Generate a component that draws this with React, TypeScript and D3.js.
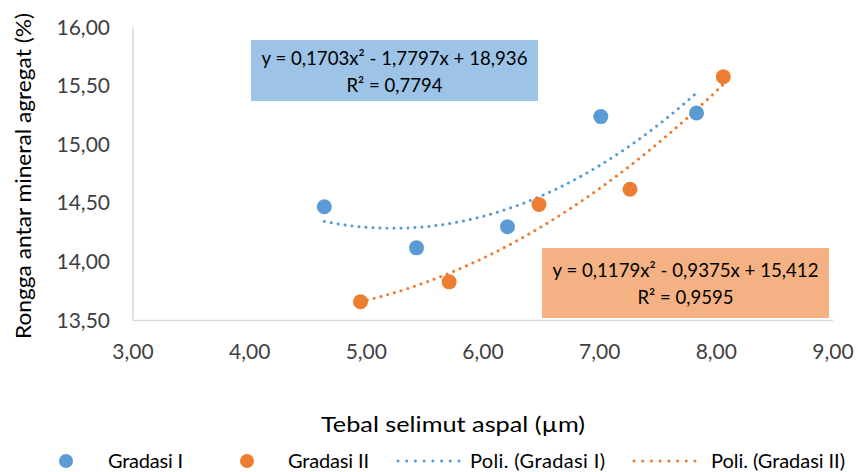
import React, { useRef, useEffect } from 'react';
import * as d3 from 'd3';

const gradasi1X = [4.64, 5.43, 6.21, 7.01, 7.83];
const gradasi1Y = [14.47, 14.12, 14.30, 15.24, 15.27];
const gradasi2X = [4.95, 5.71, 6.48, 7.26, 8.06];
const gradasi2Y = [13.66, 13.83, 14.49, 14.62, 15.58];

// trendline coefficients (a, b, c) as shown on the chart
const poli1 = [0.1703, -1.7797, 18.936];
const poli2 = [0.1179, -0.9375, 15.412];

const xTicks = [3, 4, 5, 6, 7, 8, 9];
const yTicks = [13.5, 14, 14.5, 15, 15.5, 16];

const eq1Lines = ['y = 0,1703x² - 1,7797x + 18,936', 'R² = 0,7794'];
const eq2Lines = ['y = 0,1179x² - 0,9375x + 15,412', 'R² = 0,9595'];

const BLUE = '#5B9BD5';
const ORANGE = '#ED7D31';
const FONT = 'Lato, "Open Sans", sans-serif';

const App = () => {
  const svgRef = useRef(null);
  const W = 858;
  const H = 472;

  useEffect(() => {
    const svg = d3.select(svgRef.current);
    svg.selectAll('*').remove();

    const x = d3.scaleLinear().domain([3, 9]).range([133, 833]);
    const y = d3.scaleLinear().domain([13.5, 16]).range([320.5, 27.5]);
    const fmt = (d) => d3.format('.2f')(d).replace('.', ',');

    // axis lines (no gridlines)
    svg.append('line').attr('x1', 133).attr('x2', 833).attr('y1', y(13.5)).attr('y2', y(13.5))
      .attr('stroke', '#D9D9D9').attr('stroke-width', 1.5);
    svg.append('line').attr('x1', 133).attr('x2', 133).attr('y1', y(13.5)).attr('y2', y(16))
      .attr('stroke', '#D9D9D9').attr('stroke-width', 1.5);

    svg.selectAll('.xt').data(xTicks).join('text')
      .attr('class', 'xt')
      .attr('x', (d) => x(d)).attr('y', 359)
      .attr('text-anchor', 'middle')
      .attr('font-family', FONT).attr('font-size', 21).attr('fill', '#404040')
      .text(fmt);

    svg.selectAll('.yt').data(yTicks).join('text')
      .attr('class', 'yt')
      .attr('x', 110).attr('y', (d) => y(d) + 7)
      .attr('text-anchor', 'end')
      .attr('font-family', FONT).attr('font-size', 21).attr('fill', '#404040')
      .text(fmt);

    svg.append('text')
      .attr('transform', `translate(31, 176) rotate(-90)`)
      .attr('text-anchor', 'middle')
      .attr('font-family', FONT).attr('font-size', 22).attr('fill', '#000')
      .attr('textLength', 326).attr('lengthAdjust', 'spacingAndGlyphs')
      .text('Rongga antar mineral agregat (%)');

    svg.append('text')
      .attr('x', 453).attr('y', 432)
      .attr('text-anchor', 'middle')
      .attr('font-family', FONT).attr('font-size', 22).attr('fill', '#000')
      .attr('textLength', 264).attr('lengthAdjust', 'spacingAndGlyphs')
      .text('Tebal selimut aspal (µm)');

    // trendlines from the polynomial of each series
    const poly = (c) => (v) => c[0] * v * v + c[1] * v + c[2];
    const trend = (xs, c, color) => {
      const f = poly(c);
      const [lo, hi] = d3.extent(xs);
      const pts = d3.range(0, 61).map((i) => {
        const v = lo + (i / 60) * (hi - lo);
        return [x(v), y(f(v))];
      });
      svg.append('path')
        .attr('d', d3.line()(pts))
        .attr('fill', 'none')
        .attr('stroke', color)
        .attr('stroke-width', 3)
        .attr('stroke-linecap', 'round')
        .attr('stroke-dasharray', '0.1 6.9');
    };

    // equation boxes
    const box = (x0, y0, w, h, fill, lines, widths, dy) => {
      const g = svg.append('g');
      g.append('rect').attr('x', x0).attr('y', y0).attr('width', w).attr('height', h).attr('fill', fill);
      g.selectAll('text').data(lines).join('text')
        .attr('x', x0 + w / 2).attr('y', (d, i) => y0 + dy + i * 27)
        .attr('text-anchor', 'middle')
        .attr('font-family', FONT).attr('font-size', 19).attr('fill', '#000')
        .attr('textLength', (d, i) => widths[i]).attr('lengthAdjust', 'spacingAndGlyphs')
        .text((d) => d);
    };

    box(251, 40, 287, 61, '#9DC3E6', eq1Lines, [266, 96], 25);
    box(542, 248, 287, 70, '#F4B183', eq2Lines, [266, 96], 29);

    trend(gradasi1X, poli1, BLUE);
    trend(gradasi2X, poli2, ORANGE);

    svg.selectAll('.p1').data(gradasi1X).join('circle')
      .attr('class', 'p1')
      .attr('cx', (d) => x(d)).attr('cy', (d, i) => y(gradasi1Y[i]))
      .attr('r', 7.5).attr('fill', BLUE);
    svg.selectAll('.p2').data(gradasi2X).join('circle')
      .attr('class', 'p2')
      .attr('cx', (d) => x(d)).attr('cy', (d, i) => y(gradasi2Y[i]))
      .attr('r', 7.5).attr('fill', ORANGE);

    // legend
    const ly = 461;
    const lg = svg.append('g').attr('font-family', FONT).attr('font-size', 20).attr('fill', '#000');
    lg.append('circle').attr('cx', 66).attr('cy', ly).attr('r', 7).attr('fill', BLUE);
    lg.append('text').attr('x', 108).attr('y', ly + 7).attr('textLength', 75).text('Gradasi I');
    lg.append('circle').attr('cx', 247).attr('cy', ly).attr('r', 7).attr('fill', ORANGE);
    lg.append('text').attr('x', 288).attr('y', ly + 7).attr('textLength', 81).text('Gradasi II');
    lg.append('line').attr('x1', 398).attr('x2', 467).attr('y1', ly).attr('y2', ly)
      .attr('stroke', BLUE).attr('stroke-width', 3).attr('stroke-linecap', 'round').attr('stroke-dasharray', '0.1 8.6');
    lg.append('text').attr('x', 470).attr('y', ly + 7).attr('textLength', 135).text('Poli. (Gradasi I)');
    lg.append('line').attr('x1', 634).attr('x2', 703).attr('y1', ly).attr('y2', ly)
      .attr('stroke', ORANGE).attr('stroke-width', 3).attr('stroke-linecap', 'round').attr('stroke-dasharray', '0.1 8.6');
    lg.append('text').attr('x', 711).attr('y', ly + 7).attr('textLength', 134).text('Poli. (Gradasi II)');
  }, []);

  return (
    <svg ref={svgRef} width={W} height={H} style={{ position: 'absolute', left: 0, top: 0, background: '#fff' }}></svg>
  );
};

export default App;
